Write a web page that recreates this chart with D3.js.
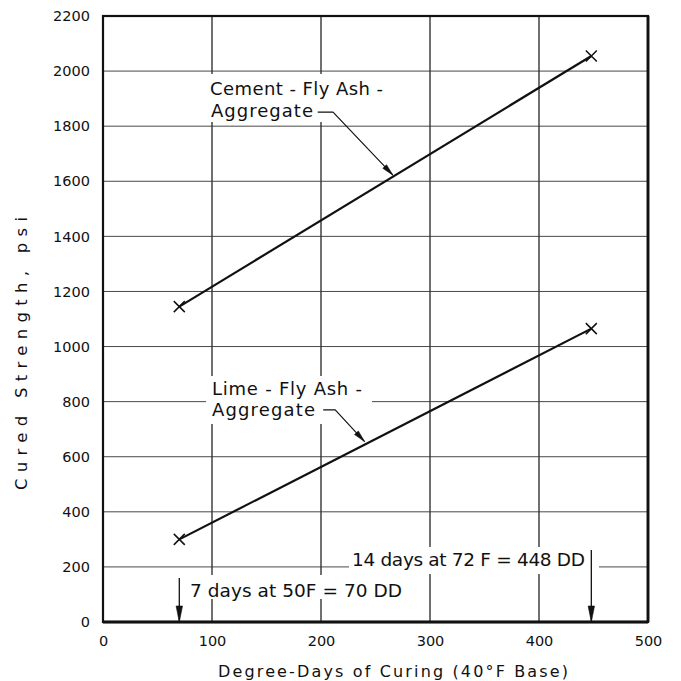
<!DOCTYPE html>
<html>
<head>
<meta charset="utf-8">
<script src="https://cdn.jsdelivr.net/npm/d3@7"></script>
<style>
  html, body { margin: 0; padding: 0; background: #fff; }
  svg { display: block; }
  text { font-family: "DejaVu Sans", "Liberation Sans", sans-serif; fill: #111; }
</style>
</head>
<body>
<svg id="chart" width="681" height="681"></svg>
<script>
// ---- data ----
const xTicks = [0, 100, 200, 300, 400, 500];
const yTicks = [0, 200, 400, 600, 800, 1000, 1200, 1400, 1600, 1800, 2000, 2200];
const seriesNames = ["Cement-Fly Ash-Aggregate", "Lime-Fly Ash-Aggregate"];
const degreeDays = [70, 448];
const cementStrength = [1145, 2055];
const limeStrength = [300, 1065];
const markerDays = [70, 448];
const markerLabels = ["7 days at 50F = 70 DD", "14 days at 72 F = 448 DD"];
const xTitle = "Degree-Days of Curing  (40°F Base)";
const yTitle = "Cured Strength, psi";

// ---- layout ----
const svg = d3.select("#chart");
const x = d3.scaleLinear().domain([0, 500]).range([103, 648]);
const y = d3.scaleLinear().domain([0, 2200]).range([622, 16]);
const ink = "#111";

// gridlines
svg.append("g").selectAll("line").data(xTicks.slice(1, -1)).join("line")
  .attr("x1", d => x(d)).attr("x2", d => x(d))
  .attr("y1", y(2200)).attr("y2", y(0))
  .attr("stroke", ink).attr("stroke-width", 1.2);
svg.append("g").selectAll("line").data(yTicks.slice(1, -1)).join("line")
  .attr("x1", x(0)).attr("x2", x(500))
  .attr("y1", d => y(d)).attr("y2", d => y(d))
  .attr("stroke", "#333").attr("stroke-width", 0.9);

// axes (labels only)
const xAxis = svg.append("g").attr("transform", `translate(0,${y(0)})`)
  .call(d3.axisBottom(x).tickValues(xTicks).tickSize(0).tickPadding(14).tickFormat(d3.format("d")));
xAxis.select(".domain").remove();
xAxis.selectAll("text").style("font-size", "14.5px").attr("fill", ink);

const yAxis = svg.append("g").attr("transform", `translate(${x(0)},0)`)
  .call(d3.axisLeft(y).tickValues(yTicks).tickSize(0).tickPadding(13).tickFormat(d3.format("d")));
yAxis.select(".domain").remove();
yAxis.selectAll("text").style("font-size", "14.5px").attr("fill", ink);

// axis titles
svg.append("text").attr("x", 218).attr("y", 677)
  .attr("textLength", 350).attr("lengthAdjust", "spacing")
  .style("font-size", "16px").text(xTitle);
svg.append("text")
  .attr("transform", "translate(27,490) rotate(-90)")
  .attr("textLength", 273).attr("lengthAdjust", "spacing")
  .style("font-size", "16.5px").text(yTitle);

// label boxes (white, interrupt gridlines)
const boxes = [
  [205, 74, 183, 48],
  [206, 376, 166, 48],
  [349, 547, 250, 27],
  [185, 575, 220, 24]
];
svg.append("g").selectAll("rect").data(boxes).join("rect")
  .attr("x", d => d[0]).attr("y", d => d[1]).attr("width", d => d[2]).attr("height", d => d[3])
  .attr("fill", "#fff");

// series labels
function label(x0, y0, text, len, size) {
  svg.append("text").attr("x", x0).attr("y", y0)
    .attr("textLength", len).attr("lengthAdjust", "spacing")
    .style("font-size", size + "px").text(text);
}
label(210, 95, "Cement - Fly Ash -", 173, 18);
label(211, 117, "Aggregate", 102, 18);
label(212, 395, "Lime - Fly Ash -", 150, 18);
label(212, 416, "Aggregate", 103, 18);
label(190, 597, markerLabels[0], 212, 18.5);
label(352, 566, markerLabels[1], 233, 18.5);

// arrowhead helper
function arrowHead(tx, ty, fx, fy, len, half) {
  const dx = tx - fx, dy = ty - fy, L = Math.hypot(dx, dy);
  const ux = dx / L, uy = dy / L;
  const bx = tx - ux * len, by = ty - uy * len;
  svg.append("path")
    .attr("d", `M${tx},${ty}L${bx - uy * half},${by + ux * half}L${bx + uy * half},${by - ux * half}Z`)
    .attr("fill", ink).attr("stroke", ink).attr("stroke-width", 0.6);
}

// vertical marker arrows
const arrowTops = [160, 261];
markerDays.forEach((d, i) => {
  svg.append("line")
    .attr("x1", x(d)).attr("x2", x(d)).attr("y1", y(arrowTops[i])).attr("y2", y(0))
    .attr("stroke", ink).attr("stroke-width", 1.3);
  arrowHead(x(d), y(0), x(d), y(arrowTops[i]), 16, 3.2);
});

// leader lines (data coordinates)
const leaders = [
  [[197, 1851], [211, 1851], [266, 1622]],
  [[202, 770], [213, 770], [240, 655]]
];
leaders.forEach(pts => {
  svg.append("path")
    .attr("d", d3.line().x(p => x(p[0])).y(p => y(p[1]))(pts))
    .attr("fill", "none").attr("stroke", ink).attr("stroke-width", 1.1);
  const a = pts[pts.length - 1], b = pts[pts.length - 2];
  arrowHead(x(a[0]), y(a[1]), x(b[0]), y(b[1]), 12, 2.6);
});

// series lines and X markers
const series = [cementStrength, limeStrength];
series.forEach((vals, si) => {
  const pts = degreeDays.map((d, i) => [d, vals[i]]);
  svg.append("path")
    .attr("d", d3.line().x(p => x(p[0])).y(p => y(p[1]))(pts))
    .attr("fill", "none").attr("stroke", ink).attr("stroke-width", 2.2)
    .attr("class", "series").attr("data-name", seriesNames[si]);
  svg.append("g").selectAll("path").data(pts).join("path")
    .attr("d", p => {
      const cx = x(p[0]), cy = y(p[1]), s = 5.5;
      return `M${cx - s},${cy - s}L${cx + s},${cy + s}M${cx - s},${cy + s}L${cx + s},${cy - s}`;
    })
    .attr("stroke", ink).attr("stroke-width", 1.5).attr("fill", "none");
});

// frame
svg.append("rect")
  .attr("x", x(0)).attr("y", y(2200))
  .attr("width", x(500) - x(0)).attr("height", y(0) - y(2200))
  .attr("fill", "none").attr("stroke", ink).attr("stroke-width", 2.2);
svg.append("line").attr("x1", x(0)).attr("x2", x(500)).attr("y1", y(0)).attr("y2", y(0))
  .attr("stroke", ink).attr("stroke-width", 2.8);
svg.append("line").attr("x1", x(500)).attr("x2", x(500)).attr("y1", y(2200)).attr("y2", y(0))
  .attr("stroke", ink).attr("stroke-width", 2.8);
</script>
</body>
</html>
